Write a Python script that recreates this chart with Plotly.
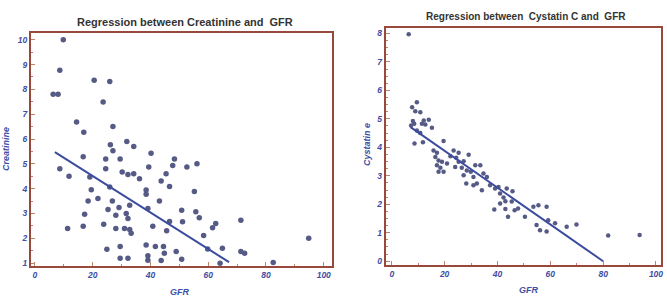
import plotly.graph_objects as go

# ---- Left panel: Creatinine vs GFR ----
cre_gfr = [9.8, 8.6, 20.5, 25.9, 6.3, 8.0, 23.6, 14.4, 27.0, 16.9, 26.1, 31.8, 34.2, 27.0, 40.2,
           16.7, 24.5, 29.5, 48.3, 47.7, 8.6, 24.5, 39.4, 30.2, 32.2, 34.2, 11.8, 19.0, 36.2, 45.4,
           43.7, 46.6, 19.5, 38.5, 38.5, 25.9, 21.8, 18.4, 26.8, 32.8, 43.1, 25.3, 29.1, 39.1, 17.2,
           28.0, 31.6, 32.2, 23.8, 16.7, 11.3, 28.0, 31.0, 32.8, 33.3, 40.8, 45.6, 46.6, 48.9, 24.9,
           29.5, 38.5, 41.7, 44.5, 44.8, 29.5, 32.2, 39.1, 39.1, 43.7, 52.6, 56.1, 55.2, 50.8, 51.1,
           55.7, 56.9, 62.6, 61.5, 71.3, 58.4, 64.9, 59.8, 50.8, 71.3, 72.6, 64.1, 82.5, 94.8]
cre_val = [10.0, 8.77, 8.37, 8.32, 7.8, 7.8, 7.49, 6.69, 6.5, 6.27, 5.77, 5.9, 5.7, 5.53, 5.43,
           5.29, 5.2, 5.2, 5.2, 4.93, 4.8, 4.8, 4.87, 4.67, 4.57, 4.6, 4.5, 4.47, 4.4, 4.6,
           4.31, 4.09, 3.96, 3.95, 3.78, 4.07, 3.6, 3.5, 3.5, 3.33, 3.5, 3.16, 3.24, 3.2, 2.97,
           2.93, 3.0, 2.8, 2.57, 2.49, 2.4, 2.4, 2.4, 2.36, 2.2, 2.49, 2.3, 2.68, 1.47, 1.56,
           1.67, 1.73, 1.67, 1.67, 1.4, 1.2, 1.2, 1.3, 1.12, 1.11, 4.87, 5.0, 3.89, 3.13, 2.67,
           3.07, 2.83, 2.6, 2.43, 2.73, 2.11, 1.6, 1.57, 1.16, 1.47, 1.4, 1.0, 1.03, 2.0]
cre_line_gfr = [6.9, 67.2]
cre_line_val = [5.47, 1.04]

# ---- Right panel: Cystatin C vs GFR ----
cys_gfr = [6.4, 9.5, 7.7, 8.9, 10.8, 12.1, 14.0, 8.0, 8.5, 11.4, 12.7, 15.2, 7.3, 9.5, 10.8,
           8.6, 11.8, 19.6, 15.8, 17.1, 23.4, 25.3, 16.5, 17.7, 22.2, 24.4, 29.1, 19.0, 20.9, 25.3,
           27.2, 17.1, 18.4, 24.0, 26.5, 31.6, 33.5, 17.7, 19.6, 28.4, 29.9, 34.7, 27.2, 30.9, 36.0,
           28.2, 30.9, 32.2, 34.1, 37.2, 39.1, 40.4, 43.5, 45.7, 41.0, 42.3, 43.0, 45.4, 41.0,
           38.8, 43.0, 44.0, 46.5, 47.8, 50.4, 53.6, 55.5, 58.6, 54.8, 56.1, 58.6, 59.2, 61.8,
           66.2, 69.9, 81.9, 93.8]
cys_val = [7.97, 5.58, 5.41, 5.27, 5.23, 4.94, 4.97, 4.92, 4.83, 4.83, 4.8, 4.69, 4.77, 4.59, 4.5,
           4.13, 4.18, 4.22, 3.89, 3.81, 3.89, 3.81, 3.66, 3.54, 3.69, 3.63, 3.74, 3.49, 3.43, 3.49,
           3.51, 3.37, 3.28, 3.31, 3.28, 3.37, 3.37, 3.14, 3.14, 3.19, 3.14, 3.08, 3.02, 2.96, 2.96,
           2.73, 2.67, 2.73, 2.49, 2.67, 2.55, 2.61, 2.55, 2.46, 2.38, 2.24, 2.11, 2.1, 2.03,
           1.82, 1.83, 1.56, 1.79, 1.85, 1.56, 1.91, 1.97, 1.91, 1.27, 1.09, 1.04, 1.44, 1.33,
           1.21, 1.29, 0.9, 0.92]
cys_line_gfr = [7.1, 80.0]
cys_line_val = [4.71, 0.0]

x_ticks = [0, 20, 40, 60, 80, 100]
cre_ticks = [1, 2, 3, 4, 5, 6, 7, 8, 9, 10]
cys_ticks = [0, 1, 2, 3, 4, 5, 6, 7, 8]

MARK = "#565b86"
LINE = "#3b4c9e"
FRAME = "#98493c"
TICKC = "#c4826c"
LAB = "#3d4ea4"

fig = go.Figure()
fig.add_trace(go.Scatter(x=cre_gfr, y=cre_val, mode="markers",
                         marker=dict(size=5.5, color=MARK), xaxis="x", yaxis="y", showlegend=False))
fig.add_trace(go.Scatter(x=cre_line_gfr, y=cre_line_val, mode="lines",
                         line=dict(color=LINE, width=2), xaxis="x", yaxis="y", showlegend=False))
fig.add_trace(go.Scatter(x=cys_gfr, y=cys_val, mode="markers",
                         marker=dict(size=4.5, color=MARK), xaxis="x2", yaxis="y2", showlegend=False))
fig.add_trace(go.Scatter(x=cys_line_gfr, y=cys_line_val, mode="lines",
                         line=dict(color=LINE, width=2), xaxis="x2", yaxis="y2", showlegend=False))

tickfont = dict(family="Liberation Sans", size=8.5, color=LAB,
                weight="bold", style="italic")
common = dict(showline=True, linecolor=FRAME, linewidth=2, mirror=True, showgrid=False,
              zeroline=False, ticks="inside", ticklen=4, tickcolor=TICKC, tickwidth=1,
              tickfont=tickfont)

fig.update_layout(
    width=667, height=300, margin=dict(l=0, r=0, t=0, b=0),
    paper_bgcolor="white", plot_bgcolor="white",
    xaxis=dict(domain=[0.0465, 0.499], range=[-1.4, 102.8], tickvals=x_ticks, anchor="y",
               minor=dict(dtick=10, ticks="inside", ticklen=2, tickcolor=TICKC), **common),
    yaxis=dict(domain=[0.107, 0.89], range=[0.88, 10.28], tickvals=cre_ticks, anchor="x",
               minor=dict(dtick=0.5, ticks="inside", ticklen=2, tickcolor=TICKC), **common),
    xaxis2=dict(domain=[0.580, 0.994], range=[-2.3, 101.9], tickvals=x_ticks, anchor="y2",
                minor=dict(dtick=10, ticks="inside", ticklen=2, tickcolor=TICKC), **common),
    yaxis2=dict(domain=[0.11, 0.907], range=[-0.14, 8.2], tickvals=cys_ticks, anchor="x2",
                minor=dict(dtick=0.25, ticks="inside", ticklen=2, tickcolor=TICKC), **common),
)

title_font = dict(family="Liberation Sans", size=11, color="#333333", weight="bold")
lab_font = dict(family="Liberation Sans", size=9, color=LAB, weight="bold", style="italic")
fig.add_annotation(text="Regression between Creatinine and  GFR", x=186 / 667, y=1 - 22 / 300,
                   xref="paper", yref="paper", showarrow=False, font=title_font,
                   xanchor="center", yanchor="middle")
fig.add_annotation(text="Regression between  Cystatin C and  GFR", x=528 / 667, y=1 - 17 / 300,
                   xref="paper", yref="paper", showarrow=False, font=dict(title_font, size=10),
                   xanchor="center", yanchor="middle")
fig.add_annotation(text="GFR", x=180 / 667, y=1 - 294 / 300, xref="paper", yref="paper",
                   showarrow=False, font=lab_font, xanchor="center", yanchor="middle")
fig.add_annotation(text="GFR", x=530 / 667, y=1 - 292 / 300, xref="paper", yref="paper",
                   showarrow=False, font=lab_font, xanchor="center", yanchor="middle")
fig.add_annotation(text="Creatinine", x=6 / 667, y=1 - 150 / 300, xref="paper", yref="paper",
                   showarrow=False, textangle=-90, font=lab_font, xanchor="center", yanchor="middle")
fig.add_annotation(text="Cystatin e", x=368 / 667, y=1 - 145 / 300, xref="paper", yref="paper",
                   showarrow=False, textangle=-90, font=lab_font, xanchor="center", yanchor="middle")

fig.write_html("out.html", config={"displayModeBar": False},
               post_script="document.body.style.margin='0';document.body.style.overflow='hidden';")
